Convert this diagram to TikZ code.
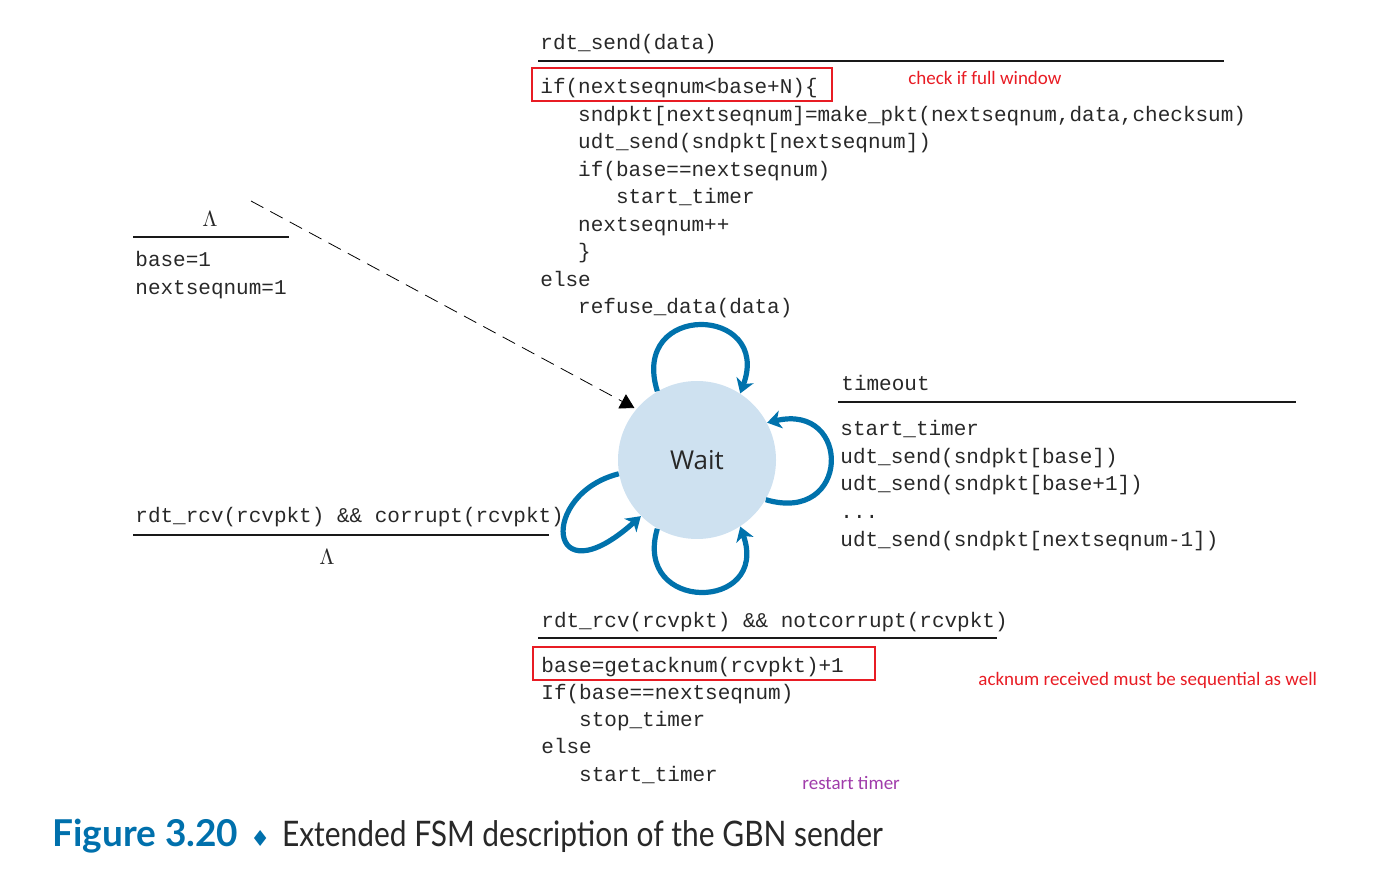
\documentclass[tikz,border=0pt]{standalone}
\usepackage{fontspec}
\usepackage{tikz}
\usetikzlibrary{arrows.meta}

\setmainfont{Liberation Serif}
\newfontfamily\codefont{Liberation Mono}
\newfontfamily\notefont{Carlito}
\newfontfamily\statefont{Open Sans}
\newfontfamily\capfont[FakeStretch=0.85]{Lato}
\newfontfamily\capboldfont{Lato}
\newfontfamily\symfont{DejaVu Sans}

\definecolor{ink}{RGB}{40,40,40}
\definecolor{loopblue}{RGB}{0,114,172}
\definecolor{waitfill}{RGB}{206,225,240}
\definecolor{noteRed}{RGB}{232,28,36}
\definecolor{notePurple}{RGB}{160,60,170}
\definecolor{capblue}{RGB}{0,112,172}

\begin{document}
\begin{tikzpicture}[x=0.5pt, y=-0.5pt, >=Latex,
    code/.style={font=\codefont\fontsize{10.5}{12}\selectfont, text=ink, anchor=base west, inner sep=0pt, yshift=-1pt},
    lam/.style={font=\fontsize{11}{12}\selectfont, text=ink, anchor=base, inner sep=0pt, yshift=-1pt},
    guard/.style={line width=1.2pt, draw=black!90},
    hilite/.style={line width=1.2pt, draw=noteRed},
    note/.style={font=\notefont\fontsize{9.5}{11}\selectfont, anchor=base west, inner sep=0pt, yshift=-1pt},
    selfloop/.style={line width=2.6pt, draw=loopblue, -{Stealth[length=7pt, width=9pt, inset=2pt]}}]
    \useasboundingbox (0,0) rectangle (1385,870);

    % the one state
    \node[circle, fill=waitfill, minimum size=79pt, inner sep=0pt,
          font=\statefont\fontsize{13}{15}\selectfont, text=ink] (wait) at (697,460) {Wait};

    % initial transition
    \coordinate (init) at (251,201);
    \draw[dashed, dash pattern=on 7pt off 4pt, thin, black, -{Triangle[length=7pt, width=8pt]},
          shorten >=1pt] (init) -- (wait.140);
    \node[lam] (lamInit) at (210,225) {$\Lambda$};
    \coordinate (initL) at (133,237);
    \coordinate (initR) at (289,237);
    \draw[guard] (initL) -- (initR);
    \node[code] (init0) at (135,265) {base=1};
    \node[code] (init1) at (135,293) {nextseqnum=1};

    % rdt_send
    \node[code] (send) at (540,48) {rdt\_send(data)};
    \coordinate (sendL) at (538,61);
    \coordinate (sendR) at (1224,61);
    \draw[guard] (sendL) -- (sendR);
    \foreach \ind/\txt [count=\i from 0] in {
        0/{if(nextseqnum<base+N)\{},
        3/{sndpkt[nextseqnum]=make\_pkt(nextseqnum,data,checksum)},
        3/{udt\_send(sndpkt[nextseqnum])},
        3/{if(base==nextseqnum)},
        6/{start\_timer},
        3/{nextseqnum++},
        3/{\}},
        0/{else},
        3/{refuse\_data(data)}}
        \node[code] (send\i) at ({540+12.6*\ind},{92+27.5*\i}) {\txt};
    \draw[hilite] (532,68) rectangle (832,101);
    \node[note, text=noteRed] (full) at (908,83) {check if full window};
    \draw[selfloop] (wait.120) .. controls +(-28,-90) and +(32,-88) .. (wait.57);

    % timeout
    \node[code] (tout) at (841,389) {timeout};
    \coordinate (toutL) at (838,402);
    \coordinate (toutR) at (1296,402);
    \draw[guard] (toutL) -- (toutR);
    \foreach \txt [count=\i from 0] in {
        {start\_timer},
        {udt\_send(sndpkt[base])},
        {udt\_send(sndpkt[base+1])},
        {.{}.{}.},
        {udt\_send(sndpkt[nextseqnum-1])}}
        \node[code] (tout\i) at (840,{434+27.5*\i}) {\txt};
    \draw[selfloop] (wait.-30) .. controls +(85,25) and +(85,-20) .. (wait.28);

    % corrupt ack
    \node[code] (bad) at (135,521) {rdt\_rcv(rcvpkt) \&\& corrupt(rcvpkt)};
    \coordinate (badL) at (133,535);
    \coordinate (badR) at (549,535);
    \draw[guard] (badL) -- (badR);
    \node[lam] (lamBad) at (327,563) {$\Lambda$};
    \draw[selfloop] (wait.190) .. controls +(-80,20) and +(-95,85) .. (wait.225);

    % good ack
    \node[code] (good) at (541,625) {rdt\_rcv(rcvpkt) \&\& notcorrupt(rcvpkt)};
    \coordinate (goodL) at (538,638);
    \coordinate (goodR) at (997,638);
    \draw[guard] (goodL) -- (goodR);
    \foreach \ind/\txt [count=\i from 0] in {
        0/{base=getacknum(rcvpkt)+1},
        0/{If(base==nextseqnum)},
        3/{stop\_timer},
        0/{else},
        3/{start\_timer}}
        \node[code] (good\i) at ({541+12.6*\ind},{670+27.3*\i}) {\txt};
    \draw[hilite] (533,647) rectangle (875,680);
    \node[note, text=noteRed] (seq) at (978,683) {acknum received must be sequential as well};
    \node[note, text=notePurple] (restart) at (802,787) {restart timer};
    \draw[selfloop] (wait.-120) .. controls +(-25,85) and +(30,85) .. (wait.-57);

    % caption
    \node[anchor=base west, inner sep=0pt, font=\capfont\fontsize{17.6}{20}\selectfont] (cap) at (52,846)
        {\textcolor{capblue}{\capboldfont\fontsize{18.5}{20}\selectfont\bfseries Figure 3.20}\hspace{6pt}{\symfont\fontsize{11}{12}\selectfont\textcolor{capblue}{♦}}\hspace{6pt}\textcolor{ink}{Extended FSM description of the GBN sender}};
\end{tikzpicture}
\end{document}
